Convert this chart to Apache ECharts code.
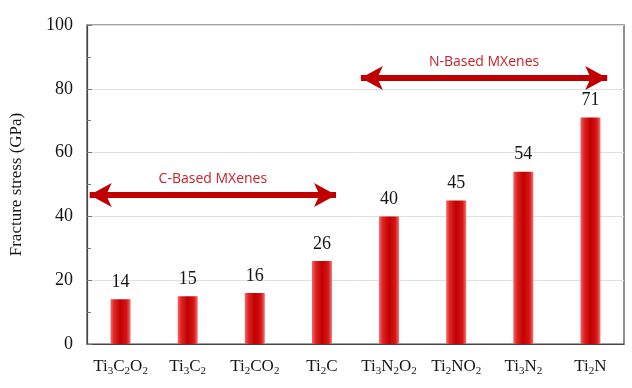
<!DOCTYPE html>
<html><head><meta charset="utf-8">
<script src="https://cdn.jsdelivr.net/npm/echarts@6/dist/echarts.min.js"></script>
<style>html,body{margin:0;padding:0;background:#fff}#c{width:632px;height:388px}</style>
</head><body><div id="c"></div>
<script>
// categories as rich-text pieces: [base, subscript] pairs
const categoryParts = [
  [['Ti','3'],['C','2'],['O','2']],
  [['Ti','3'],['C','2']],
  [['Ti','2'],['C',''],['O','2']],
  [['Ti','2'],['C','']],
  [['Ti','3'],['N','2'],['O','2']],
  [['Ti','2'],['N',''],['O','2']],
  [['Ti','3'],['N','2']],
  [['Ti','2'],['N','']]
];
const categories = categoryParts.map(p => p.map(x => x[0] + x[1]).join(''));
const fractureStress = [14, 15, 16, 26, 40, 45, 54, 71];
const yTicks = [0, 20, 40, 60, 80, 100];
const groupLabels = ['C-Based MXenes', 'N-Based MXenes'];
const groupSpans = [[-0.46, 3.21, 46.7], [3.58, 7.25, 83.4]]; // [xStart, xEnd, y] in data units

const serif = 'Liberation Serif';
const ink = '#151515';
const chart = echarts.init(document.getElementById('c'));
const barGrad = new echarts.graphic.LinearGradient(0, 0, 1, 0, [
  {offset: 0, color: '#f06a6a'},
  {offset: 0.18, color: '#e02424'},
  {offset: 0.5, color: '#c00000'},
  {offset: 0.82, color: '#d81818'},
  {offset: 1, color: '#f27474'}
]);
chart.setOption({
  animation: false,
  grid: {left: 85, right: 8, top: 25, bottom: 44, show: true, borderColor: '#444', borderWidth: 1.2},
  xAxis: [{
    type: 'category', data: categories,
    axisLine: {lineStyle: {color: '#444', width: 1.2}},
    axisTick: {show: false},
    axisLabel: {
      margin: 13, interval: 0, hideOverlap: false,
      formatter: (v, i) => categoryParts[i].map(p => '{n|' + p[0] + '}' + (p[1] ? '{s|' + p[1] + '}' : '')).join(''),
      rich: {
        n: {fontFamily: serif, fontSize: 17, color: ink},
        s: {fontFamily: serif, fontSize: 11, color: ink, verticalAlign: 'bottom', padding: [9, 0, 0, 0]}
      }
    }
  }, {
    type: 'value', min: -0.5, max: 7.5, show: false
  }],
  yAxis: {
    type: 'value', min: 0, max: 100, interval: 20,
    name: 'Fracture stress (GPa)', nameLocation: 'middle', nameGap: 62, nameRotate: 90,
    nameTextStyle: {fontFamily: serif, fontSize: 17, color: ink},
    axisLine: {show: true, onZero: false, lineStyle: {color: '#444', width: 1.2}},
    axisTick: {show: true, inside: true, length: 5, lineStyle: {color: '#777'}},
    minorTick: {show: true, splitNumber: 2, length: 4, lineStyle: {color: '#777'}},
    splitLine: {show: true, lineStyle: {color: '#e0e0e0', width: 1}},
    axisLabel: {fontFamily: serif, fontSize: 18, color: ink, margin: 14,
      formatter: v => yTicks.includes(v) ? String(v) : ''}
  },
  series: [{
    type: 'bar', data: fractureStress, barWidth: 20,
    itemStyle: {color: barGrad},
    label: {show: true, position: 'top', distance: 8, fontFamily: serif, fontSize: 18, color: ink}
  }, {
    type: 'line', xAxisIndex: 1, data: [], silent: true,
    markLine: {
      silent: true,
      symbol: ['arrow', 'arrow'], symbolSize: [18, 22],
      lineStyle: {color: '#c00000', width: 6, type: 'solid'},
      label: {show: true, position: 'insideMiddleTop', distance: 9,
        fontFamily: 'Open Sans', fontSize: 14, color: '#c8202a'},
      data: groupSpans.map((s, i) => [
        {coord: [s[0], s[2]], name: groupLabels[i], label: {formatter: groupLabels[i]}},
        {coord: [s[1], s[2]]}
      ])
    }
  }]
});
</script></body></html>
